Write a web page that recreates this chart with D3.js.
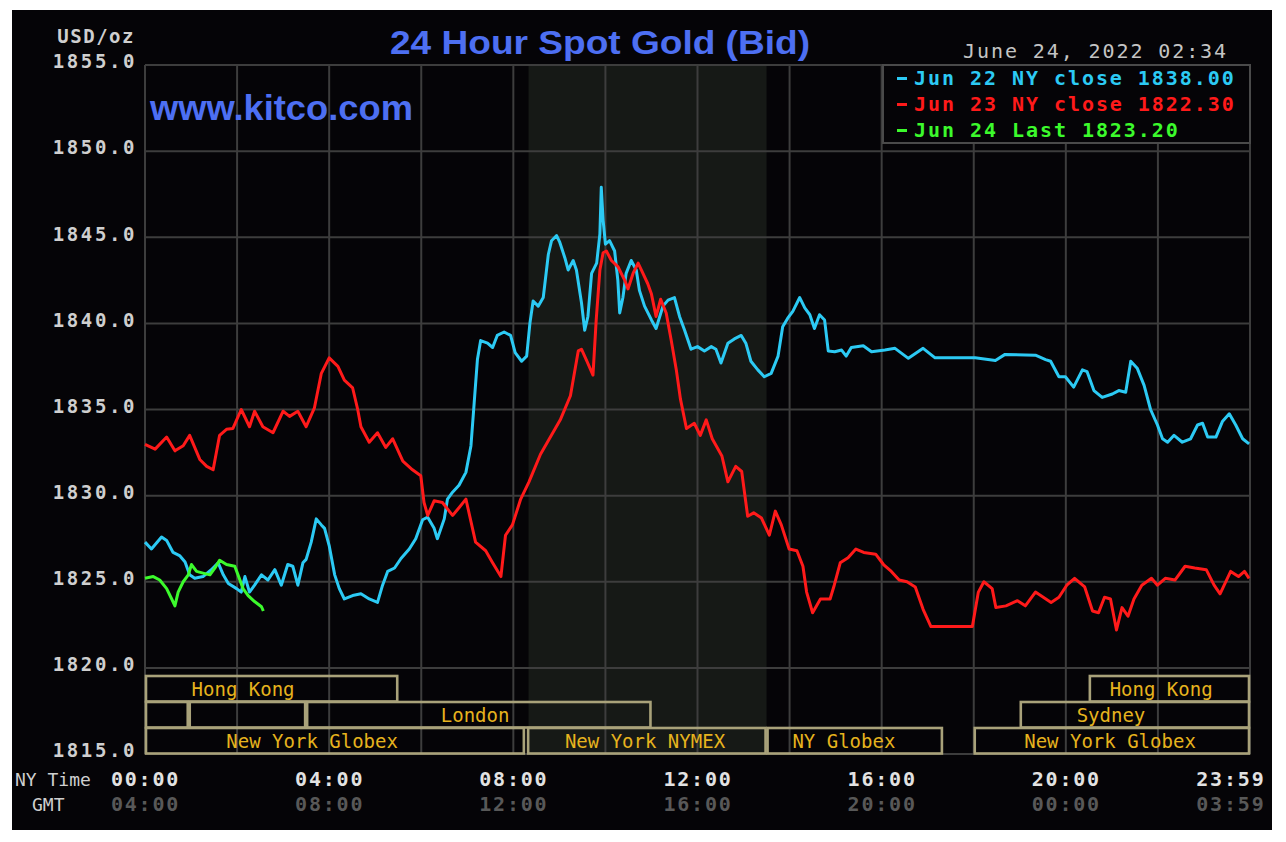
<!DOCTYPE html>
<html>
<head>
<meta charset="utf-8">
<script src="https://cdn.jsdelivr.net/npm/d3@7"></script>
<style>
  html, body { margin: 0; padding: 0; background: #fff; }
  svg { display: block; }
</style>
</head>
<body>
<script>
// ---- data (time in NY hours, price in USD/oz) ----
const yTicks = [1815, 1820, 1825, 1830, 1835, 1840, 1845, 1850, 1855];
const gridHours = [0, 2, 4, 6, 8, 10, 12, 14, 16, 18, 20, 22, 24];
const labelHours = [0, 4, 8, 12, 16, 20, 24];
const nyTimeLabels = ["00:00", "04:00", "08:00", "12:00", "16:00", "20:00", "23:59"];
const gmtLabels = ["04:00", "08:00", "12:00", "16:00", "20:00", "00:00", "03:59"];
const legendLabels = ["Jun 22 NY close 1838.00", "Jun 23 NY close 1822.30", "Jun 24 Last 1823.20"];
const nymexHours = [8.33, 13.5];

const jun22 = [
  [0, 1827.3], [0.14, 1826.9], [0.36, 1827.6], [0.47, 1827.4], [0.61, 1826.7], [0.76, 1826.5],
  [0.87, 1826.15], [0.97, 1825.4], [1.08, 1825.2], [1.26, 1825.3], [1.44, 1825.7], [1.59, 1826.1],
  [1.7, 1825.4], [1.81, 1824.9], [1.99, 1824.6], [2.09, 1824.4], [2.17, 1825.3], [2.27, 1824.4],
  [2.38, 1824.8], [2.53, 1825.4], [2.67, 1825.1], [2.82, 1825.7], [2.96, 1824.8], [3.1, 1826.0],
  [3.21, 1825.9], [3.32, 1824.8], [3.43, 1826.1], [3.5, 1826.3], [3.61, 1827.3], [3.72, 1828.65],
  [3.83, 1828.3], [3.9, 1828.1], [4.0, 1827.1], [4.12, 1825.4], [4.22, 1824.6], [4.33, 1824.0],
  [4.51, 1824.2], [4.69, 1824.3], [4.87, 1824.0], [5.05, 1823.8], [5.16, 1824.8], [5.27, 1825.6],
  [5.42, 1825.8], [5.56, 1826.35], [5.74, 1826.9], [5.88, 1827.5], [6.03, 1828.6], [6.14, 1828.75],
  [6.28, 1828.1], [6.35, 1827.5], [6.5, 1828.65], [6.57, 1829.8], [6.68, 1830.2], [6.82, 1830.6],
  [6.97, 1831.35], [7.08, 1832.9], [7.15, 1835.4], [7.22, 1837.9], [7.29, 1839.0], [7.44, 1838.85],
  [7.55, 1838.6], [7.65, 1839.3], [7.8, 1839.5], [7.94, 1839.3], [8.04, 1838.3], [8.18, 1837.8],
  [8.29, 1838.1], [8.36, 1840.0], [8.43, 1841.3], [8.54, 1841.0], [8.65, 1841.5], [8.76, 1844.0],
  [8.83, 1844.8], [8.94, 1845.1], [9.01, 1844.7], [9.12, 1843.8], [9.19, 1843.1], [9.3, 1843.65],
  [9.37, 1843.1], [9.48, 1841.2], [9.55, 1839.6], [9.62, 1840.4], [9.7, 1842.9], [9.81, 1843.5],
  [9.88, 1845.2], [9.91, 1847.9], [9.95, 1846.0], [10.0, 1844.6], [10.09, 1844.8], [10.2, 1844.2],
  [10.27, 1842.5], [10.31, 1840.6], [10.38, 1841.5], [10.45, 1842.9], [10.56, 1843.65], [10.67, 1843.1],
  [10.74, 1841.9], [10.85, 1841.0], [11.0, 1840.2], [11.1, 1839.7], [11.25, 1841.0], [11.36, 1841.35],
  [11.5, 1841.5], [11.61, 1840.4], [11.72, 1839.6], [11.86, 1838.5], [12.0, 1838.65], [12.15, 1838.4],
  [12.3, 1838.65], [12.4, 1838.5], [12.51, 1837.7], [12.66, 1838.85], [12.8, 1839.1], [12.95, 1839.3],
  [13.05, 1838.85], [13.16, 1837.8], [13.31, 1837.3], [13.45, 1836.9], [13.6, 1837.1], [13.75, 1838.1],
  [13.85, 1839.8], [13.96, 1840.3], [14.07, 1840.7], [14.22, 1841.5], [14.33, 1840.9], [14.44, 1840.5],
  [14.54, 1839.7], [14.65, 1840.5], [14.76, 1840.2], [14.84, 1838.4], [14.98, 1838.35], [15.13, 1838.45],
  [15.23, 1838.1], [15.34, 1838.6], [15.6, 1838.7], [15.78, 1838.35], [16.07, 1838.45], [16.29, 1838.55],
  [16.58, 1837.97], [16.9, 1838.55], [17.16, 1838.0], [18.03, 1838.0], [18.47, 1837.85], [18.68, 1838.2],
  [19.34, 1838.15], [19.56, 1837.9], [19.67, 1837.8], [19.85, 1836.9], [19.99, 1836.9], [20.17, 1836.3],
  [20.36, 1837.3], [20.46, 1837.2], [20.61, 1836.1], [20.79, 1835.7], [21.01, 1835.9], [21.15, 1836.1],
  [21.3, 1836.0], [21.41, 1837.8], [21.55, 1837.4], [21.7, 1836.4], [21.84, 1835.0], [21.99, 1834.1],
  [22.1, 1833.3], [22.21, 1833.1], [22.35, 1833.5], [22.53, 1833.1], [22.71, 1833.3], [22.86, 1834.1],
  [22.97, 1834.2], [23.08, 1833.4], [23.26, 1833.4], [23.4, 1834.3], [23.55, 1834.75], [23.69, 1834.1],
  [23.84, 1833.3], [23.98, 1833.0]
];

const jun23 = [
  [0, 1832.98], [0.22, 1832.7], [0.47, 1833.4], [0.65, 1832.6], [0.83, 1832.9], [0.97, 1833.5],
  [1.19, 1832.1], [1.34, 1831.7], [1.48, 1831.5], [1.62, 1833.5], [1.77, 1833.85], [1.91, 1833.9],
  [2.09, 1835.0], [2.27, 1834.0], [2.38, 1834.9], [2.56, 1834.0], [2.78, 1833.65], [3.0, 1834.9],
  [3.14, 1834.6], [3.32, 1834.9], [3.5, 1834.0], [3.68, 1835.1], [3.83, 1837.1], [4.0, 1838.0],
  [4.19, 1837.5], [4.33, 1836.7], [4.51, 1836.25], [4.62, 1835.0], [4.69, 1834.0], [4.87, 1833.1],
  [5.05, 1833.65], [5.23, 1832.8], [5.38, 1833.3], [5.6, 1832.0], [5.81, 1831.5], [5.99, 1831.15],
  [6.06, 1829.6], [6.14, 1828.85], [6.28, 1829.7], [6.46, 1829.6], [6.68, 1828.85], [6.82, 1829.3],
  [6.97, 1829.8], [7.18, 1827.3], [7.4, 1826.8], [7.54, 1826.15], [7.73, 1825.3], [7.83, 1827.7],
  [7.98, 1828.3], [8.16, 1829.8], [8.34, 1830.8], [8.59, 1832.4], [9.02, 1834.4], [9.24, 1835.8],
  [9.41, 1838.4], [9.48, 1838.5], [9.6, 1837.8], [9.73, 1837.0], [9.8, 1840.2], [9.88, 1843.1],
  [9.95, 1844.1], [10.02, 1844.2], [10.13, 1843.65], [10.27, 1843.3], [10.42, 1842.5], [10.49, 1842.0],
  [10.6, 1842.9], [10.71, 1843.5], [10.78, 1843.1], [10.92, 1842.3], [11.0, 1841.7], [11.1, 1840.4],
  [11.2, 1841.4], [11.32, 1840.6], [11.43, 1839.0], [11.54, 1837.3], [11.63, 1835.6], [11.76, 1833.9],
  [11.93, 1834.2], [12.06, 1833.5], [12.19, 1834.4], [12.32, 1833.3], [12.53, 1832.3], [12.66, 1830.8],
  [12.83, 1831.7], [12.96, 1831.4], [13.09, 1828.8], [13.22, 1829.0], [13.39, 1828.7], [13.56, 1827.7],
  [13.69, 1829.1], [13.82, 1828.3], [13.99, 1826.9], [14.16, 1826.8], [14.29, 1825.9], [14.37, 1824.4],
  [14.5, 1823.2], [14.67, 1824.0], [14.88, 1824.0], [14.97, 1824.8], [15.1, 1826.1], [15.27, 1826.4],
  [15.44, 1826.9], [15.61, 1826.7], [15.87, 1826.6], [16.04, 1826.0], [16.21, 1825.6], [16.38, 1825.1],
  [16.55, 1825.0], [16.73, 1824.7], [16.9, 1823.4], [17.07, 1822.4], [17.58, 1822.4], [17.97, 1822.4],
  [18.1, 1824.4], [18.22, 1825.0], [18.4, 1824.6], [18.48, 1823.5], [18.7, 1823.6], [18.95, 1823.9],
  [19.12, 1823.6], [19.34, 1824.4], [19.51, 1824.1], [19.68, 1823.8], [19.85, 1824.1], [20.02, 1824.8],
  [20.19, 1825.2], [20.41, 1824.7], [20.58, 1823.3], [20.71, 1823.2], [20.84, 1824.1], [20.97, 1824.0],
  [21.1, 1822.2], [21.22, 1823.5], [21.35, 1823.0], [21.48, 1824.0], [21.65, 1824.8], [21.86, 1825.2],
  [21.99, 1824.8], [22.16, 1825.2], [22.37, 1825.1], [22.59, 1825.9], [22.8, 1825.8], [23.05, 1825.7],
  [23.22, 1824.8], [23.35, 1824.3], [23.58, 1825.6], [23.75, 1825.3], [23.88, 1825.6], [23.98, 1825.2]
];

const jun24 = [
  [0, 1825.2], [0.18, 1825.3], [0.32, 1825.1], [0.47, 1824.6], [0.58, 1824.0], [0.65, 1823.6],
  [0.72, 1824.4], [0.83, 1825.0], [0.94, 1825.4], [1.01, 1826.0], [1.12, 1825.6], [1.26, 1825.5],
  [1.41, 1825.4], [1.52, 1825.8], [1.62, 1826.25], [1.77, 1826.0], [1.95, 1825.9], [2.02, 1825.4],
  [2.13, 1824.6], [2.24, 1824.2], [2.38, 1823.85], [2.53, 1823.55], [2.57, 1823.3]
];

// trading sessions: row (0 = top), start/end hour, label, label centre hour
const sessionRows = [0, 0, 1, 1, 1, 1, 2, 2, 2, 2];
const sessionSpans = [[0, 5.5], [20.5, 24], [0, 0.95], [0.95, 3.5], [3.5, 11], [19, 24],
                      [0, 8.25], [8.3, 13.5], [13.5, 17.33], [18, 24]];
const sessionNames = ["Hong Kong", "Hong Kong", "", "", "London", "Sydney",
                      "New York Globex", "New York NYMEX", "NY Globex", "New York Globex"];
const sessionLabelAt = [2.13, 22.07, null, null, 7.17, 20.98, 3.63, 10.86, 15.18, 20.96];

// ---- drawing ----
const W = 1286, H = 842;
const mono = "'DejaVu Sans Mono', monospace";
const seriesColors = ["#2ccaf4", "#ff1a1a", "#3cfa2c"];
const blue = "#4d6ff2";

const svg = d3.select("body").append("svg").attr("width", W).attr("height", H);
svg.append("rect").attr("width", W).attr("height", H).attr("fill", "#fff");
svg.append("rect").attr("x", 12).attr("y", 10).attr("width", 1260).attr("height", 820).attr("fill", "#050407");

const x = d3.scaleLinear().domain([0, 24]).range([145, 1250]);
const y = d3.scaleLinear().domain([1815, 1855]).range([754, 65]);

// NYMEX shading
svg.append("rect")
  .attr("x", x(nymexHours[0])).attr("y", y(1855))
  .attr("width", x(nymexHours[1]) - x(nymexHours[0]))
  .attr("height", y(1815) - y(1855))
  .attr("fill", "#161916");

// grid
const grid = svg.append("g").attr("stroke", "#3d3d3d").attr("stroke-width", 2);
grid.selectAll("line.h").data(yTicks).enter().append("line")
  .attr("x1", x(0)).attr("x2", x(24)).attr("y1", d => y(d)).attr("y2", d => y(d));
grid.selectAll("line.v").data(gridHours).enter().append("line")
  .attr("y1", y(1855)).attr("y2", y(1815)).attr("x1", d => x(d)).attr("x2", d => x(d));

// sessions
const rowTop = [676, 702, 728];
const rowH = 25.5;
const sess = svg.append("g");
sessionSpans.forEach((s, i) => {
  const r = sessionRows[i];
  sess.append("rect")
    .attr("x", x(s[0]) + 1).attr("y", rowTop[r])
    .attr("width", x(s[1]) - x(s[0]) - 2).attr("height", rowH)
    .attr("fill", "none").attr("stroke", "#a9a27a").attr("stroke-width", 2.6);
  if (sessionNames[i]) {
    sess.append("text")
      .attr("x", x(sessionLabelAt[i])).attr("y", rowTop[r] + 20)
      .attr("text-anchor", "middle")
      .attr("font-family", mono).attr("font-size", 19)
      .attr("fill", "#e6b31e")
      .text(sessionNames[i]);
  }
});

// lines
const line = d3.line().x(d => x(d[0])).y(d => y(d[1]));
[jun22, jun23, jun24].forEach((s, i) => {
  svg.append("path").datum(s)
    .attr("d", line)
    .attr("fill", "none")
    .attr("stroke", seriesColors[i])
    .attr("stroke-width", 3)
    .attr("stroke-linejoin", "round");
});

// legend
const lg = svg.append("g");
lg.append("rect").attr("x", 883).attr("y", 65).attr("width", 367).attr("height", 78)
  .attr("fill", "#050407").attr("stroke", "#4a4a4a").attr("stroke-width", 2);
legendLabels.forEach((t, i) => {
  const by = 85 + i * 26;
  lg.append("rect").attr("x", 897).attr("y", by - 8).attr("width", 10).attr("height", 3)
    .attr("fill", seriesColors[i]);
  lg.append("text").attr("x", 914).attr("y", by)
    .attr("font-family", mono).attr("font-weight", "bold").attr("font-size", 20)
    .attr("letter-spacing", 1.95)
    .attr("fill", seriesColors[i]).text(t);
});

// y axis labels
const yAxis = svg.append("g").attr("transform", "translate(145,0)")
  .call(d3.axisLeft(y).tickValues(yTicks).tickFormat(d3.format(".1f")).tickSize(0).tickPadding(8));
yAxis.select(".domain").remove();
yAxis.selectAll("text")
  .attr("font-family", mono).attr("font-weight", "bold").attr("font-size", 19)
  .attr("letter-spacing", 2.6).attr("fill", "#cfcfcf").attr("dy", "0.15em");

// x axis labels (NY time and GMT)
const xAxis = svg.append("g").attr("transform", "translate(0,754)")
  .call(d3.axisBottom(x).tickValues(labelHours).tickFormat((d, i) => nyTimeLabels[i]).tickSize(0).tickPadding(0));
xAxis.select(".domain").remove();
xAxis.selectAll("text")
  .attr("y", 32).attr("dy", 0)
  .attr("font-family", mono).attr("font-weight", "bold").attr("font-size", 20)
  .attr("letter-spacing", 1.8).attr("fill", "#e2e2e2");
const gAxis = svg.append("g").attr("transform", "translate(0,754)")
  .call(d3.axisBottom(x).tickValues(labelHours).tickFormat((d, i) => gmtLabels[i]).tickSize(0).tickPadding(0));
gAxis.select(".domain").remove();
gAxis.selectAll("text")
  .attr("y", 57).attr("dy", 0)
  .attr("font-family", mono).attr("font-weight", "bold").attr("font-size", 20)
  .attr("letter-spacing", 1.8).attr("fill", "#585858");
// last label sits inside the frame
[xAxis, gAxis].forEach(a => a.selectAll(".tick").filter(d => d === 24).select("text")
  .attr("text-anchor", "end").attr("x", 15));

svg.append("text").attr("x", 15).attr("y", 786)
  .attr("font-family", mono).attr("font-size", 18).attr("fill", "#cfcfcf").text("NY Time");
svg.append("text").attr("x", 32).attr("y", 811)
  .attr("font-family", mono).attr("font-size", 18).attr("fill", "#cfcfcf").text("GMT");

svg.append("text").attr("x", 135).attr("y", 43).attr("text-anchor", "end")
  .attr("font-family", mono).attr("font-weight", "bold").attr("font-size", 19)
  .attr("letter-spacing", 1.5).attr("fill", "#cfcfcf").text("USD/oz");

// titles
svg.append("text").attr("x", 390).attr("y", 54)
  .attr("font-family", "'Liberation Sans', Arial, sans-serif").attr("font-weight", "bold").attr("font-size", 33)
  .attr("textLength", 420).attr("lengthAdjust", "spacingAndGlyphs")
  .attr("fill", blue).text("24 Hour Spot Gold (Bid)");
svg.append("text").attr("x", 150).attr("y", 120)
  .attr("font-family", "'Liberation Sans', Arial, sans-serif").attr("font-weight", "bold").attr("font-size", 35)
  .attr("textLength", 263).attr("lengthAdjust", "spacingAndGlyphs")
  .attr("fill", blue).text("www.kitco.com");
svg.append("text").attr("x", 1228).attr("y", 58).attr("text-anchor", "end")
  .attr("font-family", mono).attr("font-size", 20).attr("letter-spacing", 1.9)
  .attr("fill", "#c4c4c4").text("June 24, 2022 02:34");
</script>
</body>
</html>
